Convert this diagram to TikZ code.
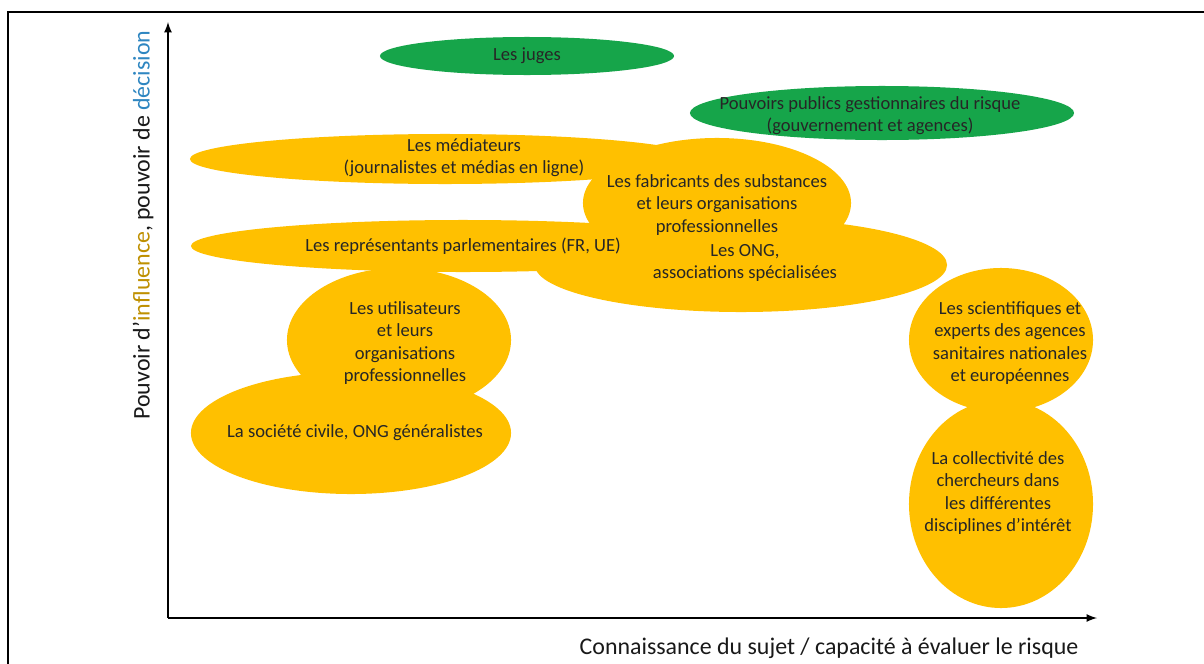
\documentclass[tikz,border=0pt]{standalone}
\usepackage{fontspec}
\setmainfont{Carlito}
\usepackage{xcolor}
\usepackage{tikz}
\usetikzlibrary{shapes.geometric}
\usetikzlibrary{positioning}
\definecolor{ambre}{RGB}{255,192,0}
\definecolor{vertfonce}{RGB}{22,165,74}
\definecolor{ocre}{RGB}{191,144,0}
\definecolor{bleuciel}{RGB}{46,134,193}
\tikzset{%
  ellcola/.style={ellipse,fill=ambre,draw=none,inner sep=0pt}
}
\tikzset{%
  ellcolb/.style={ellipse,fill=vertfonce,draw=none,inner sep=0pt}
}
\tikzset{%
  ellipsetext/.style={align=center,font=\fontsize{13.2}{15.8}\selectfont,text=black!85},
  axetext/.style={font=\fontsize{17}{20}\selectfont,text=black!90}
}
\newcommand\axetextea{ocre}
\newcommand\axetexteb{bleuciel}

\begin{document}
\begin{tikzpicture}[x=0.025cm,y=-0.025cm]
            \fill[white] (0,0) rectangle (1204,664);
            \useasboundingbox (0,0) rectangle (1204,664);
            \draw[line width=1.6pt] (8,664) -- (8,12) -- (1204,12);

            \node[ellcolb,minimum width=7.35cm,minimum height=0.95cm](juges) at (527,56){};
            \node[ellcolb,minimum width=9.6cm,minimum height=1.35cm](pouvoirs) at (882,113){};
            \node[ellcola,minimum width=12.75cm,minimum height=1.25cm](mediateurs) at (445,159){};
            \node[ellcola,minimum width=6.7cm,minimum height=3.25cm](fabricants) at (717,203){};
            \node[ellcola,minimum width=13.6cm,minimum height=1.3cm](representants) at (463,246){};
            \node[ellcola,minimum width=10.3cm,minimum height=2.35cm](ong) at (741,265){};
            \node[ellcola,minimum width=5.6cm,minimum height=3.6cm](utilisateurs) at (399,340){};
            \node[ellcola,minimum width=8cm,minimum height=3.05cm](societe) at (351,433){};
            \node[ellcola,minimum width=4.6cm,minimum height=3.6cm](scientifiques) at (1001,340){};
            \node[ellcola,minimum width=4.6cm,minimum height=5.2cm](collectivite) at (1001,504){};

            \node[ellipsetext](jugestxt) at (527,56){Les juges};
            \node[ellipsetext](pouvoirstxt) at (870,116){Pouvoirs publics gestionnaires du risque\\(gouvernement et agences)};
            \node[ellipsetext](mediateurstxt) at (464,158){Les médiateurs\\(journalistes et médias en ligne)};
            \node[ellipsetext](fabricantstxt) at (717,205){Les fabricants des substances\\et leurs organisations\\professionnelles};
            \node[ellipsetext](representantstxt) at (463,246){Les représentants parlementaires (FR, UE)};
            \node[ellipsetext](ongtxt) at (745,263){Les ONG,\\associations spécialisées};
            \node[ellipsetext](utilisateurstxt) at (405,343){Les utilisateurs\\et leurs\\organisations\\professionnelles};
            \node[ellipsetext](societetxt) at (355,433){La société civile, ONG généralistes};
            \node[ellipsetext](scientifiquestxt) at (1010,343){Les scientifiques et\\experts des agences\\sanitaires nationales\\et européennes};
            \node[ellipsetext](collectivitetxt) at (998,493){La collectivité des\\chercheurs dans\\les différentes\\disciplines d’intérêt};

            \coordinate (origine) at (168,618);
            \coordinate (ytop) at (168,22);
            \coordinate (xend) at (1097,618);
            \draw[line width=1.5pt,-latex] (origine) -- (ytop);
            \draw[line width=1.5pt,-latex] (origine) -- (xend);
            \node[axetext](xlabel) at (829,648){Connaissance du sujet / capacité à évaluer le risque};
            \node[axetext,rotate=90](ylabel) at (143,225){Pouvoir d’\textcolor{\axetextea}{influence}, pouvoir de \textcolor{\axetexteb}{décision}};
\end{tikzpicture}
\end{document}
